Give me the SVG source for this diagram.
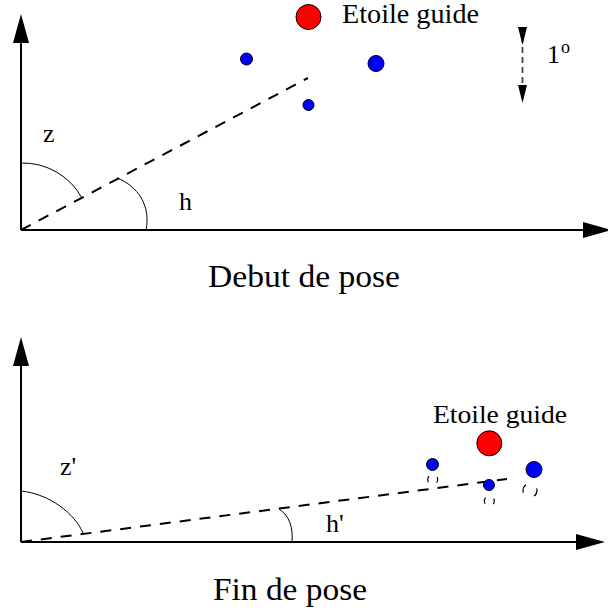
<svg xmlns="http://www.w3.org/2000/svg" width="608" height="612" viewBox="0 0 608 612">
<style>
text{font-family:"Liberation Serif","Times New Roman",serif;fill:#000}
.axis{stroke:#000;stroke-width:2;fill:none}
.sight{stroke:#000;stroke-width:2;fill:none;stroke-dasharray:11 9}
.arc{stroke:#000;stroke-width:1;fill:none}
.guide{fill:#ff0000;stroke:#000;stroke-width:1}
.star{fill:#0000ff;stroke:#000;stroke-width:1}
.ghost{fill:none;stroke:#000;stroke-width:1.2}
.lbl{font-size:26px}
.title{font-size:31px}
</style>
<defs>
<marker id="ah" markerUnits="userSpaceOnUse" viewBox="0 0 29 16" markerWidth="29" markerHeight="16" refX="0" refY="8" orient="auto">
<path d="M0,0 L29,8 L0,16 z" fill="#000"/>
</marker>
<marker id="sah" markerUnits="userSpaceOnUse" viewBox="0 0 18 9" markerWidth="18" markerHeight="9" refX="0" refY="4.5" orient="auto">
<path d="M0,0 L18,4.5 L0,9 z" fill="#000"/>
</marker>
</defs>

<g id="connectors">
<line class="axis" x1="21" y1="230" x2="21" y2="43" marker-end="url(#ah)"/>
<line class="axis" x1="21" y1="230" x2="583" y2="230" marker-end="url(#ah)"/>
<line class="sight" x1="21" y1="230" x2="308" y2="78"/>
<path class="arc" d="M21,163 A68,68 0 0 1 82,198"/>
<path class="arc" d="M117,178 C138,186 151,206 146,230"/>
<line x1="522.5" y1="27" x2="522.5" y2="85" stroke="#444" stroke-width="1.8" stroke-dasharray="6 4" marker-start="url(#sah)" marker-end="url(#sah)"/>
<line class="axis" x1="21" y1="542" x2="21" y2="366" marker-end="url(#ah)"/>
<line class="axis" x1="21" y1="542" x2="576" y2="542" marker-end="url(#ah)"/>
<line class="sight" x1="21" y1="542" x2="507" y2="479"/>
<path class="arc" d="M21,491 C50,494 75,514 83,533"/>
<path class="arc" d="M279,509 C290,516 293,528 292,542"/>
</g>

<g id="top-guide-star"><circle class="guide" cx="308.5" cy="17" r="12.5"/></g>
<g id="top-star-1"><circle class="star" cx="246.5" cy="59" r="6"/></g>
<g id="top-star-2"><circle class="star" cx="308.5" cy="105" r="5.5"/></g>
<g id="top-star-3"><circle class="star" cx="376" cy="63.5" r="8"/></g>

<g id="bottom-guide-star"><circle class="guide" cx="489.3" cy="443.3" r="12.5"/></g>
<g id="bottom-star-1"><circle class="star" cx="432.5" cy="464.5" r="6"/></g>
<g id="bottom-star-2"><circle class="star" cx="489" cy="485" r="5.5"/></g>
<g id="bottom-star-3"><circle class="star" cx="534" cy="469.5" r="8"/></g>

<g id="ghost-1"><circle class="ghost" cx="432.7" cy="479.5" r="5" stroke-dasharray="6.5 9.2" stroke-dashoffset="3.25"/></g>
<g id="ghost-2"><circle class="ghost" cx="489.3" cy="501" r="5" stroke-dasharray="6.5 9.2" stroke-dashoffset="3.25"/></g>
<g id="ghost-3"><circle class="ghost" cx="530" cy="490.5" r="7" stroke-dasharray="9 13" stroke-dashoffset="2.5"/></g>

<g id="labels">
<text x="342" y="23" font-size="27" textLength="137" lengthAdjust="spacingAndGlyphs">Etoile guide</text>
<text x="547" y="63" font-size="26">1</text>
<text x="561" y="53" font-size="18">o</text>
<text class="lbl" x="43" y="142">z</text>
<text class="lbl" x="179" y="210">h</text>
<text class="title" x="208" y="287" textLength="192" lengthAdjust="spacingAndGlyphs">Debut de pose</text>
<text class="lbl" x="60" y="475">z'</text>
<text class="lbl" x="326" y="532">h'</text>
<text x="433" y="423" font-size="26" textLength="134" lengthAdjust="spacingAndGlyphs">Etoile guide</text>
<text class="title" x="213" y="600" textLength="154" lengthAdjust="spacingAndGlyphs">Fin de pose</text>
</g>
</svg>
